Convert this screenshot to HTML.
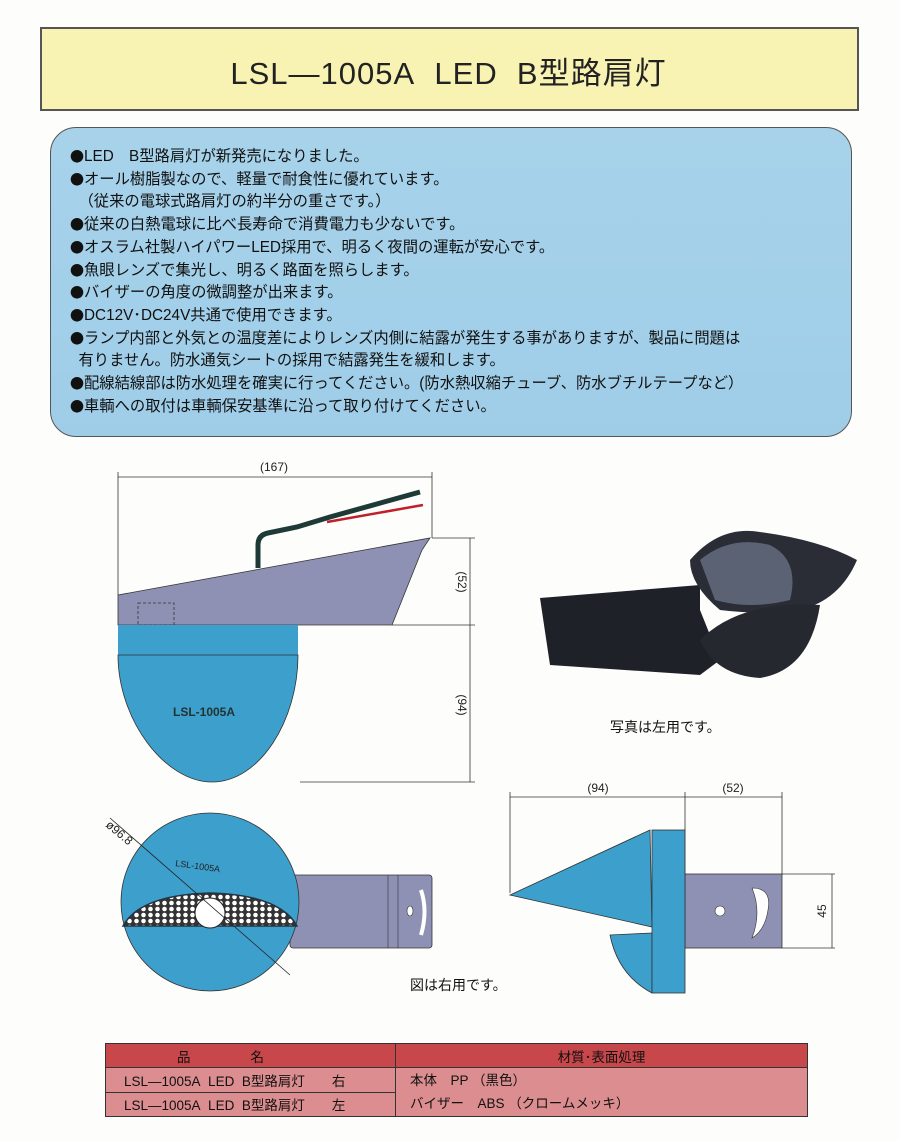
<!DOCTYPE html>
<html><head><meta charset="utf-8"><style>
body{margin:0;width:900px;height:1141px;background:#fdfdfb;position:relative;overflow:hidden;font-family:"Liberation Sans","Noto Sans CJK JP",sans-serif}
.t{position:absolute;white-space:nowrap}
i{font-style:normal;font-family:"Noto Sans CJK JP",sans-serif;font-size:14px;display:inline-block;height:16px;line-height:16px;vertical-align:-1px;overflow:visible}
</style></head><body>
<div class="t" style="left:40px;top:27px;width:815px;height:80px;background:#f9f3b3;border:2px solid #555;"></div>
<div class="t" style="left:40px;top:48px;width:817px;text-align:center;font-size:31px;letter-spacing:1px;color:#222">LSL—1005A&nbsp; LED&nbsp; B型路肩灯</div>
<div class="t" style="left:50px;top:127px;width:800px;height:308px;background:linear-gradient(180deg,#a7d2ea,#9fcde8);border:1px solid #555;border-radius:26px;"></div>
<div class="t" style="left:70px;top:146px;font-size:15.3px;line-height:22.7px;color:#111">
<i>●</i>LED　B型路肩灯が新発売になりました。<br>
<i>●</i>オール樹脂製なので、軽量で耐食性に優れています。<br>
&nbsp;&nbsp;（従来の電球式路肩灯の約半分の重さです。）<br>
<i>●</i>従来の白熱電球に比べ長寿命で消費電力も少ないです。<br>
<i>●</i>オスラム社製ハイパワーLED採用で、明るく夜間の運転が安心です。<br>
<i>●</i>魚眼レンズで集光し、明るく路面を照らします。<br>
<i>●</i>バイザーの角度の微調整が出来ます。<br>
<i>●</i>DC12V･DC24V共通で使用できます。<br>
<i>●</i>ランプ内部と外気との温度差によりレンズ内側に結露が発生する事がありますが、製品に問題は<br>
&nbsp;&nbsp;有りません。防水通気シートの採用で結露発生を緩和します。<br>
<i>●</i>配線結線部は防水処理を確実に行ってください。(防水熱収縮チューブ、防水ブチルテープなど）<br>
<i>●</i>車輌への取付は車輌保安基準に沿って取り付けてください。</div>

<svg class="t" style="left:0;top:0" width="900" height="1141" font-family="Liberation Sans, sans-serif">
<defs><pattern id="hx" width="7" height="6" patternUnits="userSpaceOnUse"><rect width="7" height="6" fill="#333"/><circle cx="3.5" cy="3" r="2.3" fill="#fff"/></pattern></defs>
<g stroke="#333" stroke-width="0.8" fill="none">
<line x1="118" y1="477" x2="432" y2="477"/><line x1="118" y1="472" x2="118" y2="595"/><line x1="432" y1="472" x2="432" y2="538"/>
<line x1="432" y1="538" x2="475" y2="538"/><line x1="392" y1="625" x2="475" y2="625"/><line x1="300" y1="782" x2="475" y2="782"/>
<line x1="470" y1="538" x2="470" y2="782"/>
</g>
<text x="274" y="471" font-size="12" text-anchor="middle" fill="#222">(167)</text>
<text x="458" y="582" font-size="12" fill="#222" transform="rotate(90 458 582)" text-anchor="middle">(52)</text>
<text x="458" y="705" font-size="12" fill="#222" transform="rotate(90 458 705)" text-anchor="middle">(94)</text>
<polygon points="118,595 430,538 422,550 392,625 118,625" fill="#8f91b4" stroke="#333" stroke-width="0.8"/>
<rect x="138" y="603" width="36" height="22" fill="none" stroke="#333" stroke-dasharray="3,2" stroke-width="0.8"/>
<path d="M258,568 V545 Q258,535 268,533 L297,527 L330,517 L420,492" stroke="#1e3a36" stroke-width="5" fill="none"/>
<path d="M327,522 L423,505" stroke="#c0202a" stroke-width="2.5" fill="none"/>
<rect x="118" y="625" width="180" height="30" fill="#3d9fcc"/>
<path d="M118,655 H298 C298,720 260,782 212,782 C165,782 118,720 118,655Z" fill="#3d9fcc" stroke="#333" stroke-width="0.8"/>
<text x="173" y="716" font-size="12" font-weight="bold" fill="#233">LSL-1005A</text>

<path d="M540,598 L700,585 L700,610 L720,660 L700,675 L550,665Z" fill="#1f2128"/>
<path d="M690,560 Q720,525 760,532 Q820,540 857,560 Q840,600 800,610 Q760,615 720,610 Q690,585 690,560Z" fill="#2a2d36"/>
<path d="M700,560 Q730,535 770,545 Q800,560 790,600 Q750,610 715,600Z" fill="#5b6274"/>
<path d="M700,640 Q740,600 820,605 Q810,670 760,678 Q715,675 700,640Z" fill="#26282f"/>
<text x="610" y="732" font-size="14" fill="#111" font-family="Liberation Sans,Noto Sans CJK JP,sans-serif">写真は左用です。</text>

<rect x="290" y="875" width="142" height="73" rx="3" fill="#8f91b4" stroke="#333" stroke-width="0.8"/>
<line x1="388" y1="875" x2="388" y2="948" stroke="#333" stroke-width="0.6"/>
<line x1="398" y1="875" x2="398" y2="948" stroke="#333" stroke-width="0.6"/>
<ellipse cx="410" cy="911" rx="3" ry="5" fill="#fff" stroke="#333" stroke-width="0.6"/>
<path d="M421,890 Q428,911 421,935" stroke="#fff" stroke-width="4" fill="none"/>
<circle cx="210" cy="902" r="89" fill="#3d9fcc" stroke="#333" stroke-width="0.8"/>
<path d="M123,926 Q140,895 210,893 Q280,895 297,926 Z" fill="url(#hx)" stroke="#234" stroke-width="1.5"/>
<circle cx="210" cy="913" r="15" fill="#fff" stroke="#222"/>
<line x1="110" y1="818" x2="290" y2="975" stroke="#222" stroke-width="0.8"/>
<text x="105" y="826" font-size="12" fill="#222" transform="rotate(40 105 826)">ø96.8</text>
<text x="175" y="866" font-size="9" fill="#222" transform="rotate(8 175 866)">LSL-1005A</text>
<text x="410" y="990" font-size="14" fill="#111" font-family="Liberation Sans,Noto Sans CJK JP,sans-serif">図は右用です。</text>

<g stroke="#333" stroke-width="0.8" fill="none">
<line x1="510" y1="797" x2="782" y2="797"/><line x1="510" y1="792" x2="510" y2="893"/><line x1="685" y1="792" x2="685" y2="875"/><line x1="782" y1="792" x2="782" y2="875"/>
<line x1="782" y1="874" x2="835" y2="874"/><line x1="782" y1="948" x2="835" y2="948"/><line x1="832" y1="874" x2="832" y2="948"/>
</g>
<text x="598" y="792" font-size="12" text-anchor="middle" fill="#222">(94)</text>
<text x="733" y="792" font-size="12" text-anchor="middle" fill="#222">(52)</text>
<text x="826" y="911" font-size="12" fill="#222" transform="rotate(-90 826 911)" text-anchor="middle">45</text>
<rect x="685" y="874" width="97" height="74" fill="#8f91b4" stroke="#333" stroke-width="0.8"/>
<circle cx="720" cy="911" r="5" fill="#fff" stroke="#333" stroke-width="0.6"/>
<path d="M752,888 Q772,888 768,910 Q765,930 752,938 Q762,912 752,888Z" fill="#fff" stroke="#333" stroke-width="0.6"/>
<polygon points="510,895 650,830 652,927" fill="#3d9fcc" stroke="#333" stroke-width="0.8"/>
<path d="M610,935 L652,933 L652,993 Q618,975 610,935Z" fill="#3d9fcc" stroke="#333" stroke-width="0.8"/>
<rect x="652" y="830" width="33" height="163" fill="#3d9fcc" stroke="#333" stroke-width="0.8"/>
</svg>

<table class="t" style="left:105px;top:1043px;width:703px;border-collapse:collapse;font-size:13.5px;color:#111" >
<tr style="background:#c8474b;height:24px"><td style="border:1px solid #333;width:287px;text-align:center;letter-spacing:60px">品名</td><td style="border:1px solid #333;text-align:center">材質･表面処理</td></tr>
<tr style="background:#dc8d8f;height:23px"><td style="border:1px solid #333;padding-left:18px">LSL—1005A&nbsp; LED&nbsp; B型路肩灯　　右</td><td rowspan="2" style="border:1px solid #333;padding-left:14px;line-height:23px">本体　PP （黒色）<br>バイザー　ABS （クロームメッキ）</td></tr>
<tr style="background:#dc8d8f;height:23px"><td style="border:1px solid #333;padding-left:18px">LSL—1005A&nbsp; LED&nbsp; B型路肩灯　　左</td></tr>
</table>
</body></html>
